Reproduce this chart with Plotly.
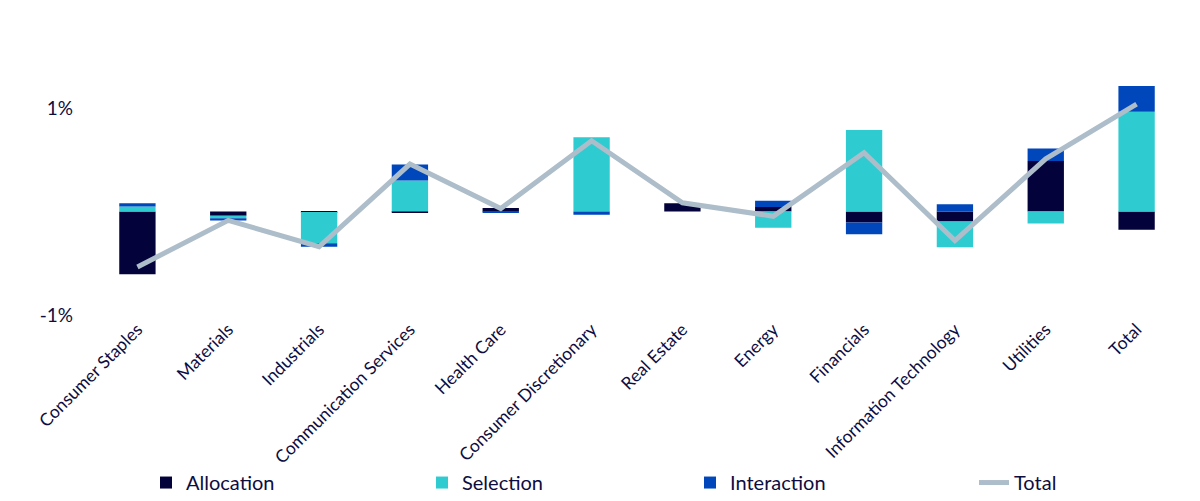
import plotly.graph_objects as go

categories = ["Consumer Staples", "Materials", "Industrials", "Communication Services",
              "Health Care", "Consumer Discretionary", "Real Estate", "Energy",
              "Financials", "Information Technology", "Utilities", "Total"]
allocation = [-0.605, -0.04, -0.005, -0.01, 0.035, 0.0, 0.08, 0.045, -0.105, -0.095, 0.49, -0.175]
selection = [0.05, -0.025, -0.30, 0.30, 0.0, 0.72, 0.0, -0.155, 0.79, -0.25, -0.115, 0.965]
interaction = [0.03, -0.02, -0.035, 0.155, -0.01, -0.03, 0.0, 0.06, -0.115, 0.07, 0.12, 0.25]
total = [-0.535, -0.085, -0.34, 0.46, 0.03, 0.685, 0.085, -0.045, 0.57, -0.28, 0.51, 1.04]
tick_vals = [-1, 1]
tick_text = ["-1%", "1%"]

FONT = "Lato"
TXT = "#0d0d3f"

fig = go.Figure()
fig.add_trace(go.Bar(x=categories, y=allocation, name="Allocation", legend="legend",
                     marker=dict(color="#03023a", line=dict(width=0))))
fig.add_trace(go.Bar(x=categories, y=selection, name="Selection", legend="legend2",
                     marker=dict(color="#2ecbd1", line=dict(width=0))))
fig.add_trace(go.Bar(x=categories, y=interaction, name="Interaction", legend="legend3",
                     marker=dict(color="#0047bb", line=dict(width=0))))
fig.add_trace(go.Scatter(x=categories, y=total, name="Total", mode="lines", legend="legend4",
                         line=dict(color="#adbdc9", width=5)))

W, H = 1192, 493
leg_y = 0.077


def leg(xpx):
    return dict(orientation="h", xref="container", yref="container",
                x=xpx / W, y=leg_y, xanchor="left", yanchor="top",
                font=dict(size=20, color=TXT, family=FONT), bgcolor="rgba(0,0,0,0)")


fig.update_layout(
    width=W, height=H,
    barmode="relative", bargap=0.6,
    plot_bgcolor="white", paper_bgcolor="white",
    margin=dict(l=84, r=18, t=33, b=186, autoexpand=False),
    font=dict(family=FONT, color=TXT),
    showlegend=True,
    legend=leg(138), legend2=leg(414), legend3=leg(682), legend4=leg(966),
    xaxis=dict(showgrid=False, zeroline=False, showline=False, tickangle=-45,
               tickfont=dict(size=17.5, color=TXT, family=FONT), ticks="",
               automargin=False),
    yaxis=dict(range=[-1.0, 1.65], tickvals=tick_vals, ticktext=tick_text,
               showgrid=False, zeroline=False, showline=False,
               tickfont=dict(size=19, color=TXT, family=FONT), ticks="",
               ticklabelstandoff=18, automargin=False),
)

fig.write_html("out.html")
